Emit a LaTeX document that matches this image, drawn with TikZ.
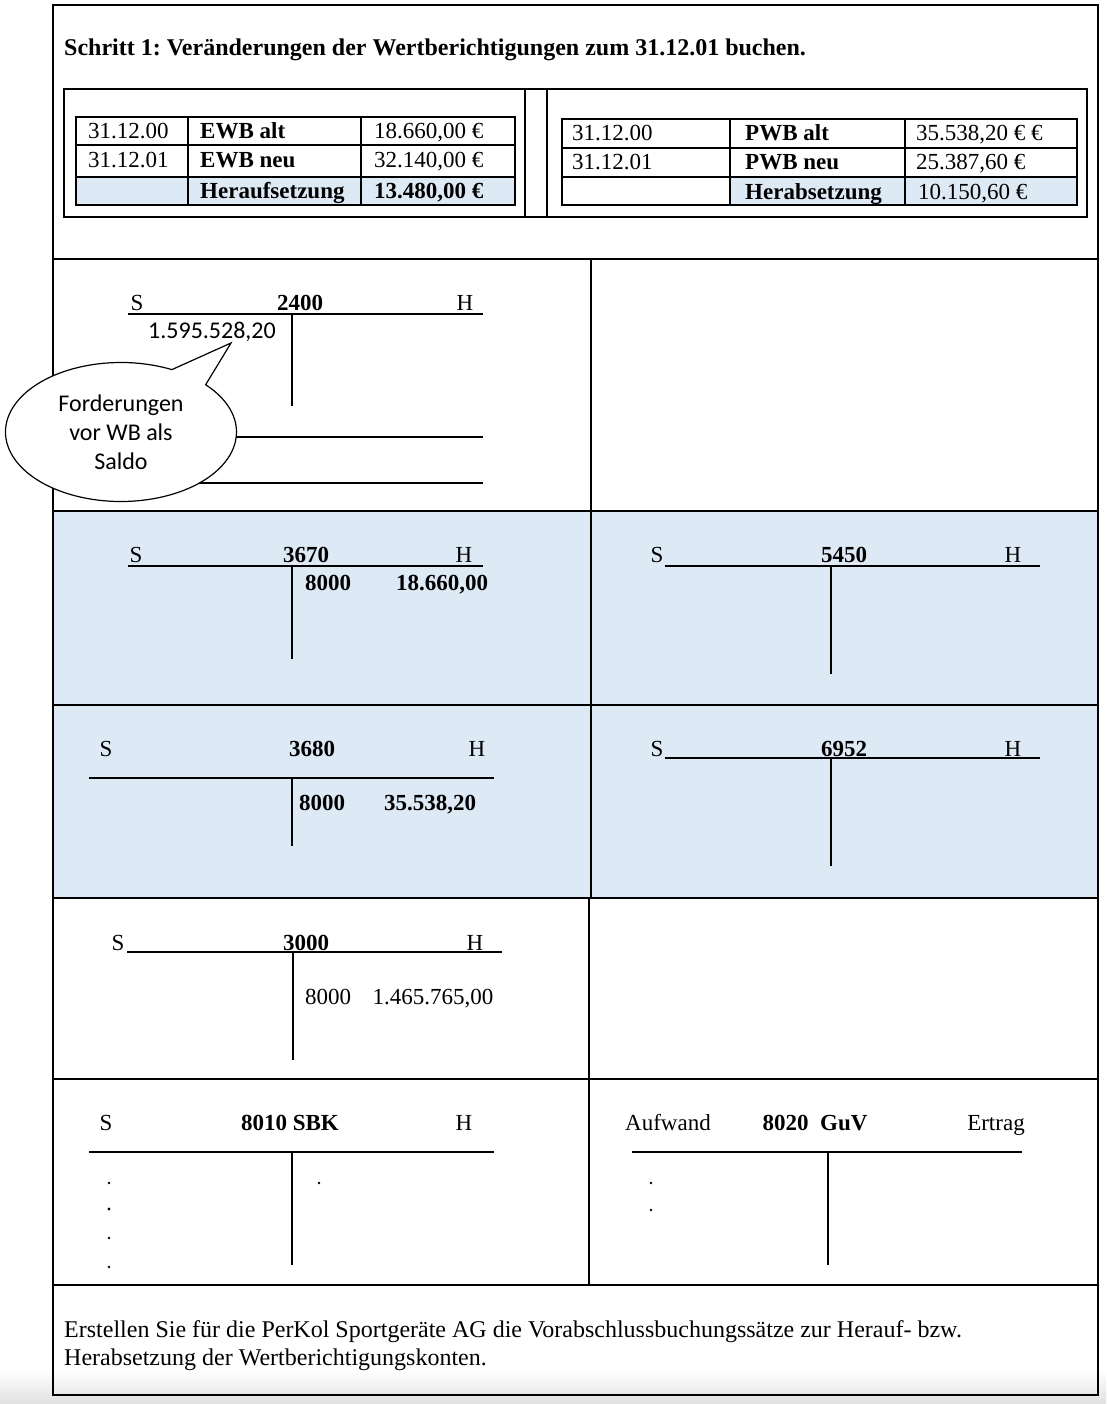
\documentclass[tikz,border=0pt]{standalone}
\usepackage{fontspec}
\setmainfont{Liberation Serif}
\newfontfamily\calfont{Carlito}
\usetikzlibrary{shapes.callouts}
\definecolor{bluefill}{RGB}{222,233,246}
\frenchspacing
\tikzset{
  txt/.style={inner sep=0pt, font=\fontsize{23}{27}\selectfont},
  btxt/.style={inner sep=0pt, font=\fontsize{23}{27}\selectfont\bfseries},
  ctxt/.style={inner sep=0pt, font=\calfont\fontsize{24}{29}\selectfont},
  secline/.style={line width=2.4pt},
  tabline/.style={line width=1.8pt},
  accline/.style={line width=1.2pt},
  dotmark/.style={circle, fill=black, inner sep=0pt, minimum size=2.6pt}
}
\begin{document}
\begin{tikzpicture}[x=1pt, y=-1pt]
\useasboundingbox (0,0) rectangle (1106,1404);
\fill[white] (0,0) rectangle (1106,1404);
\shade[top color=white, bottom color=black!12] (0,1370) rectangle (1106,1404);
% blue sections
\fill[bluefill] (53,511) rectangle (1098,898);
% ---- top section
\node[btxt, anchor=base west, font=\fontsize{24}{28}\selectfont\bfseries] (title) at (64,56) {Schritt 1: Veränderungen der Wertberichtigungen zum 31.12.01 buchen.};
\draw[tabline] (64,89) rectangle (1087,217);
\draw[tabline] (525,89) -- (525,217);
\draw[tabline] (547,89) -- (547,217);
% left table
\fill[bluefill] (76,177) rectangle (515,205);
\draw[tabline] (76,117) rectangle (515,205);
\draw[tabline] (76,145) -- (515,145);
\draw[tabline] (76,177) -- (515,177);
\draw[tabline] (188,117) -- (188,205);
\draw[tabline] (361,117) -- (361,205);
\node[txt, anchor=base west] (l11) at (88,139) {31.12.00};
\node[btxt, anchor=base west] (l12) at (200,139) {EWB alt};
\node[txt, anchor=base west] (l13) at (374,139) {18.660,00 €};
\node[txt, anchor=base west] (l21) at (88,168) {31.12.01};
\node[btxt, anchor=base west] (l22) at (200,168) {EWB neu};
\node[txt, anchor=base west] (l23) at (374,168) {32.140,00 €};
\node[btxt, anchor=base west] (l32) at (200,199) {Heraufsetzung};
\node[btxt, anchor=base west] (l33) at (374,199) {13.480,00 €};
% right table
\fill[bluefill] (730,177) rectangle (1077,205);
\draw[tabline] (562,119) rectangle (1077,205);
\draw[tabline] (562,148) -- (1077,148);
\draw[tabline] (562,177) -- (1077,177);
\draw[tabline] (730,119) -- (730,205);
\draw[tabline] (905,119) -- (905,205);
\node[txt, anchor=base west] (r11) at (572,141) {31.12.00};
\node[btxt, anchor=base west] (r12) at (745,141) {PWB alt};
\node[txt, anchor=base west] (r13) at (916,141) {35.538,20 € €};
\node[txt, anchor=base west] (r21) at (572,170) {31.12.01};
\node[btxt, anchor=base west] (r22) at (745,170) {PWB neu};
\node[txt, anchor=base west] (r23) at (916,170) {25.387,60 €};
\node[btxt, anchor=base west] (r32) at (745,200) {Herabsetzung};
\node[txt, anchor=base west] (r33) at (918,200) {10.150,60 €};
% ---- section grid
\draw[secline] (53,259) -- (1098,259);
\draw[secline] (53,511) -- (1098,511);
\draw[secline] (53,705) -- (1098,705);
\draw[secline] (53,898) -- (1098,898);
\draw[secline] (53,1079) -- (1098,1079);
\draw[secline] (53,1285) -- (1098,1285);
\draw[secline] (591,259) -- (591,898);
\draw[secline] (589,898) -- (589,1285);
\draw[secline] (53,5) rectangle (1098,1395);
% ---- 2400
\node[txt, anchor=base] (s2400) at (137,310) {S};
\node[btxt, anchor=base] (n2400) at (300,310) {2400};
\node[txt, anchor=base] (h2400) at (465,310) {H};
\draw[accline] (128,314) -- (483,314);
\draw[accline] (292,314) -- (292,406);
\draw[accline] (128,437) -- (483,437);
\draw[accline] (128,483) -- (483,483);
\node[ctxt, anchor=base] (v2400) at (212,338) {1.595.528,20};
\node[ellipse callout, draw, fill=white, line width=1.2pt, minimum width=231pt, minimum height=139pt,
  callout absolute pointer={(231,343)}, callout pointer arc=21, align=center,
  font=\calfont\fontsize{24}{29}\selectfont, inner sep=0pt] (callout) at (121,432)
  {Forderungen\\vor WB als\\Saldo};
% ---- 3670
\node[txt, anchor=base] (s3670) at (136,562) {S};
\node[btxt, anchor=base] (n3670) at (306,562) {3670};
\node[txt, anchor=base] (h3670) at (464,562) {H};
\draw[accline] (128,566) -- (483,566);
\draw[accline] (292,566) -- (292,659);
\node[btxt, anchor=base] (k3670) at (328,590) {8000};
\node[btxt, anchor=base] (v3670) at (442,590) {18.660,00};
% ---- 5450
\node[txt, anchor=base] (s5450) at (657,562) {S};
\node[btxt, anchor=base] (n5450) at (844,562) {5450};
\node[txt, anchor=base] (h5450) at (1013,562) {H};
\draw[accline] (665,566) -- (1040,566);
\draw[accline] (831,566) -- (831,674);
% ---- 3680
\node[txt, anchor=base] (s3680) at (106,756) {S};
\node[btxt, anchor=base] (n3680) at (312,756) {3680};
\node[txt, anchor=base] (h3680) at (477,756) {H};
\draw[accline] (89,778) -- (494,778);
\draw[accline] (292,778) -- (292,846);
\node[btxt, anchor=base] (k3680) at (322,810) {8000};
\node[btxt, anchor=base] (v3680) at (430,810) {35.538,20};
% ---- 6952
\node[txt, anchor=base] (s6952) at (657,756) {S};
\node[btxt, anchor=base] (n6952) at (844,756) {6952};
\node[txt, anchor=base] (h6952) at (1013,756) {H};
\draw[accline] (665,758) -- (1040,758);
\draw[accline] (831,758) -- (831,866);
% ---- 3000
\node[txt, anchor=base] (s3000) at (118,950) {S};
\node[btxt, anchor=base] (n3000) at (306,950) {3000};
\node[txt, anchor=base] (h3000) at (475,950) {H};
\draw[accline] (127,952) -- (502,952);
\draw[accline] (293,952) -- (293,1060);
\node[txt, anchor=base] (k3000) at (328,1004) {8000};
\node[txt, anchor=base] (v3000) at (433,1004) {1.465.765,00};
% ---- 8010 SBK
\node[txt, anchor=base] (s8010) at (106,1130) {S};
\node[btxt, anchor=base] (n8010) at (290,1130) {8010 SBK};
\node[txt, anchor=base] (h8010) at (464,1130) {H};
\draw[accline] (89,1152) -- (494,1152);
\draw[accline] (292,1152) -- (292,1265);
\node[dotmark] (d1) at (109,1183) {};
\node[dotmark, minimum size=3.4pt] (d2) at (109,1209) {};
\node[dotmark] (d3) at (109,1238) {};
\node[dotmark] (d4) at (109,1267) {};
\node[dotmark] (d5) at (319,1183) {};
% ---- 8020 GuV
\node[txt, anchor=base] (s8020) at (668,1130) {Aufwand};
\node[btxt, anchor=base] (n8020) at (815,1130) {8020\ \ GuV};
\node[txt, anchor=base] (h8020) at (996,1130) {Ertrag};
\draw[accline] (632,1152) -- (1022,1152);
\draw[accline] (828,1152) -- (828,1265);
\node[dotmark] (d6) at (651,1183) {};
\node[dotmark] (d7) at (651,1210) {};
% ---- bottom text
\node[txt, anchor=base west, font=\fontsize{24}{28}\selectfont] (task1) at (64,1337) {Erstellen Sie für die PerKol Sportgeräte AG die Vorabschlussbuchungssätze zur Herauf- bzw.};
\node[txt, anchor=base west, font=\fontsize{24}{28}\selectfont] (task2) at (64,1365) {Herabsetzung der Wertberichtigungskonten.};
\end{tikzpicture}
\end{document}
